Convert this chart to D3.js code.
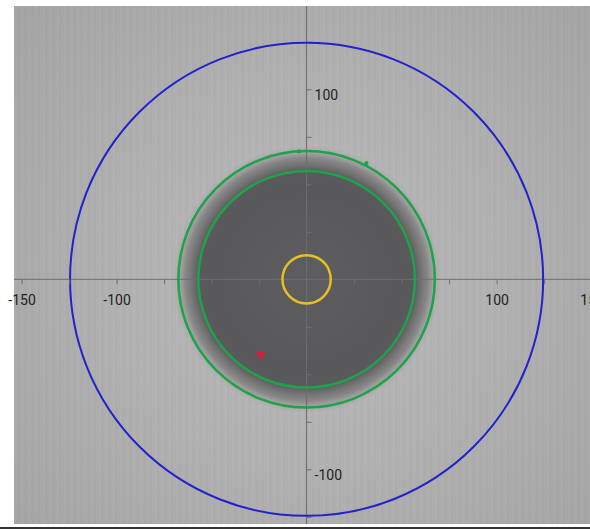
<!DOCTYPE html>
<html>
<head>
<meta charset="utf-8">
<script src="https://cdn.jsdelivr.net/npm/d3@7"></script>
<style>
  body { margin: 0; background: #fff; }
  svg { display: block; }
  .tick text { font-family: Roboto, "Liberation Sans", sans-serif; font-size: 14px; fill: #222; }
</style>
</head>
<body>
<svg width="590" height="529"></svg>
<script>
// circles centred on the origin
const circleNames = ['blue', 'greenOuter', 'greenInner', 'yellow'];
const circleRadii = [124.5, 67.5, 57, 12.7];
const circleColors = ['#2222cc', '#1ea24a', '#1ea24a', '#e6c21e'];

// dark disk centred on the origin
const diskRadius = 71;

// markers
const markerX = [-24.2];
const markerY = [-39.8];
const dotX = [31.5, -4];
const dotY = [61.2, 67.4];

// axis ticks
const tickVals = [-150, -125, -100, -75, -50, -25, 25, 50, 75, 100, 125, 150];
const xLabelVals = [-150, -100, 100, 150];
const yLabelVals = [-100, 100];

const W = 590, H = 529;
const plot = { left: 14, top: 6, right: 590, bottom: 524 };
const cx = 306.6, cy = 279.3, k = 1.9;

const svg = d3.select('svg');

const x = d3.scaleLinear().domain([-150, 150]).range([cx - 150 * k, cx + 150 * k]);
const y = d3.scaleLinear().domain([-150, 150]).range([cy + 150 * k, cy - 150 * k]);
const r = d => d * k;

const defs = svg.append('defs');
defs.append('clipPath').attr('id', 'clip')
  .append('rect')
  .attr('x', plot.left).attr('y', plot.top)
  .attr('width', plot.right - plot.left).attr('height', plot.bottom - plot.top);

const bg = defs.append('radialGradient').attr('id', 'bg')
  .attr('gradientUnits', 'userSpaceOnUse')
  .attr('cx', cx).attr('cy', cy).attr('r', 400);
bg.append('stop').attr('offset', '0%').attr('stop-color', '#bcbcbc');
bg.append('stop').attr('offset', '100%').attr('stop-color', '#a4a4a4');

const disk = defs.append('radialGradient').attr('id', 'disk');
[[0, '#5e5e60', 1], [0.7, '#58585a', 1], [0.8, '#5a5a5c', 1], [0.9, '#7c7c7c', 0.8], [1, '#aaaaaa', 0]]
  .forEach(([o, c, a]) => disk.append('stop').attr('offset', o).attr('stop-color', c).attr('stop-opacity', a));

const stripes = defs.append('pattern').attr('id', 'stripes')
  .attr('patternUnits', 'userSpaceOnUse').attr('width', 7).attr('height', 10);
stripes.append('rect').attr('x', 1).attr('width', 1).attr('height', 10).attr('fill', '#fff').attr('opacity', 0.035);
stripes.append('rect').attr('x', 4).attr('width', 1).attr('height', 10).attr('fill', '#000').attr('opacity', 0.025);

const g = svg.append('g').attr('clip-path', 'url(#clip)');

g.append('rect')
  .attr('x', plot.left).attr('y', plot.top)
  .attr('width', plot.right - plot.left).attr('height', plot.bottom - plot.top)
  .attr('fill', 'url(#bg)');
g.append('rect')
  .attr('x', plot.left).attr('y', plot.top)
  .attr('width', plot.right - plot.left).attr('height', plot.bottom - plot.top)
  .attr('fill', 'url(#stripes)');

g.append('circle')
  .attr('cx', x(0)).attr('cy', y(0)).attr('r', r(diskRadius))
  .attr('fill', 'url(#disk)');

// axes
g.append('line')
  .attr('x1', plot.left).attr('x2', plot.right).attr('y1', y(0)).attr('y2', y(0))
  .attr('stroke', '#6e6e6e').attr('stroke-width', 1);
g.append('line')
  .attr('x1', x(0)).attr('x2', x(0)).attr('y1', plot.top).attr('y2', plot.bottom)
  .attr('stroke', '#6e6e6e').attr('stroke-width', 1);

const xAxis = svg.append('g')
  .attr('transform', `translate(0,${y(0)})`)
  .call(d3.axisBottom(x).tickValues(tickVals)
    .tickFormat(d => xLabelVals.includes(d) ? d : '')
    .tickSize(5).tickPadding(11));
const yAxis = g.append('g')
  .attr('transform', `translate(${x(0)},0)`)
  .call(d3.axisRight(y).tickValues(tickVals)
    .tickFormat(d => yLabelVals.includes(d) ? d : '')
    .tickSize(5).tickPadding(3));
yAxis.selectAll('text').attr('dy', '0.71em');
[xAxis, yAxis].forEach(a => {
  a.select('.domain').remove();
  a.selectAll('.tick line').attr('stroke', '#6e6e6e');
});

// circles
g.selectAll('circle.ring')
  .data(circleNames)
  .join('circle')
  .attr('class', 'ring')
  .attr('cx', x(0)).attr('cy', y(0))
  .attr('r', (d, i) => r(circleRadii[i]))
  .attr('fill', 'none')
  .attr('stroke', (d, i) => circleColors[i])
  .attr('stroke-width', (d, i) => i === 0 ? 2 : 2.5);

// small green dots on the outer ring
g.selectAll('circle.dot')
  .data(dotX)
  .join('circle')
  .attr('class', 'dot')
  .attr('cx', d => x(d)).attr('cy', (d, i) => y(dotY[i]))
  .attr('r', 2)
  .attr('fill', '#1ea24a');

// red marker
g.selectAll('path.marker')
  .data(markerX)
  .join('path')
  .attr('class', 'marker')
  .attr('transform', (d, i) => `translate(${x(d)},${y(markerY[i])}) rotate(180)`)
  .attr('d', d3.symbol(d3.symbolTriangle, 40))
  .attr('fill', '#d4203a');

// bottom frame line
svg.append('rect').attr('x', 0).attr('y', 527).attr('width', W).attr('height', 2).attr('fill', '#333');
</script>
</body>
</html>
